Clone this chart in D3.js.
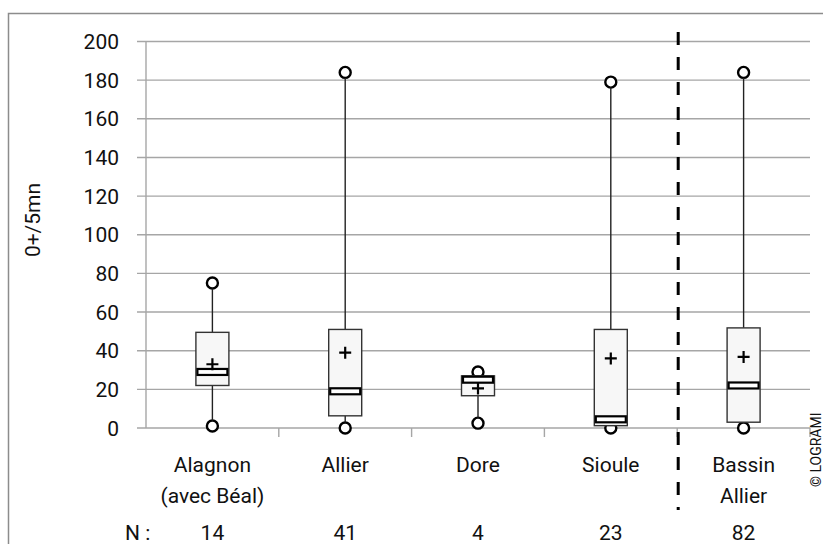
<!DOCTYPE html>
<html>
<head>
<meta charset="utf-8">
<script src="https://cdn.jsdelivr.net/npm/d3@7"></script>
<style>
  html, body { margin: 0; padding: 0; background: #fff; }
  svg { display: block; }
  text { font-family: Roboto, "DejaVu Sans", sans-serif; fill: #111; }
</style>
</head>
<body>
<svg id="chart" width="823" height="544"></svg>
<script>
// Box-plot statistics per river
const categories = ["Alagnon\n(avec Béal)", "Allier", "Dore", "Sioule", "Bassin\nAllier"];
const counts     = [14, 41, 4, 23, 82];
const q1         = [22, 6.3, 16.7, 1.2, 3];
const q3         = [49.5, 51, 27, 51, 51.8];
const medians    = [29, 19, 25, 4.5, 22];
const means      = [33, 39, 20.5, 36, 36.8];
const maxima     = [75, 184, 29, 179, 184];
const minima     = [1, 0, 2.5, 0, 0];
const yTicks     = [0, 20, 40, 60, 80, 100, 120, 140, 160, 180, 200];
const yTitle     = "0+/5mn";
const credit     = "© LOGRAMI";

const svg = d3.select("#chart");

// outer frame
svg.append("rect")
  .attr("x", 8.5).attr("y", 13.5)
  .attr("width", 830).attr("height", 560)
  .attr("fill", "none").attr("stroke", "#8c8c8c").attr("stroke-width", 1.5);

const plotLeft = 146, plotRight = 810, plotTop = 41.5, plotBottom = 428;

const x = d3.scaleBand().domain(d3.range(categories.length)).range([plotLeft, plotRight]);
const y = d3.scaleLinear().domain([0, 200]).range([plotBottom, plotTop]);

// horizontal gridlines with left ticks
svg.append("g").selectAll("line").data(yTicks).join("line")
  .attr("x1", plotLeft - 9).attr("x2", plotRight)
  .attr("y1", d => y(d)).attr("y2", d => y(d))
  .attr("stroke", "#a6a6a6").attr("stroke-width", 1.4);

// y axis line
svg.append("line")
  .attr("x1", plotLeft).attr("x2", plotLeft).attr("y1", y(200)).attr("y2", y(0))
  .attr("stroke", "#a6a6a6").attr("stroke-width", 1.4);

// y tick labels
svg.append("g").selectAll("text").data(yTicks).join("text")
  .attr("x", 119).attr("y", d => y(d))
  .attr("dy", "0.36em")
  .attr("text-anchor", "end")
  .attr("font-size", 21)
  .text(d => d);

// x tick marks at band boundaries
const bounds = d3.range(categories.length + 1).map(i => plotLeft + i * x.bandwidth());
svg.append("g").selectAll("line").data(bounds.slice(1)).join("line")
  .attr("x1", d => d).attr("x2", d => d)
  .attr("y1", plotBottom).attr("y2", plotBottom + 9)
  .attr("stroke", "#a6a6a6").attr("stroke-width", 1.4);

// y title
svg.append("text")
  .attr("transform", `translate(40,220) rotate(-90)`)
  .attr("text-anchor", "middle")
  .attr("font-size", 21)
  .text(yTitle);

const cx = i => x(i) + x.bandwidth() / 2;
const bw = 33;

const boxes = svg.append("g");
categories.forEach((c, i) => {
  const g = boxes.append("g");
  // outlier / extreme markers
  [maxima[i], minima[i]].forEach(v => {
    g.append("circle")
      .attr("cx", cx(i)).attr("cy", y(v)).attr("r", 5.5)
      .attr("fill", "#fff").attr("stroke", "#000").attr("stroke-width", 2.4);
  });
  // whiskers
  g.append("line")
    .attr("x1", cx(i)).attr("x2", cx(i))
    .attr("y1", y(q3[i])).attr("y2", y(maxima[i]) + 5.5)
    .attr("stroke", "#222").attr("stroke-width", 1.4);
  g.append("line")
    .attr("x1", cx(i)).attr("x2", cx(i))
    .attr("y1", y(q1[i])).attr("y2", y(minima[i]) - 5.5)
    .attr("stroke", "#222").attr("stroke-width", 1.4);
  // interquartile box
  g.append("rect")
    .attr("x", cx(i) - bw / 2).attr("y", y(q3[i]))
    .attr("width", bw).attr("height", y(q1[i]) - y(q3[i]))
    .attr("fill", "#f7f7f7").attr("stroke", "#333").attr("stroke-width", 1.4);
  // median bar
  g.append("rect")
    .attr("x", cx(i) - bw / 2 + 1.5).attr("y", y(medians[i]) - 3)
    .attr("width", bw - 3).attr("height", 6)
    .attr("fill", "#fff").attr("stroke", "#000").attr("stroke-width", 2.2);
  // mean cross
  const my = y(means[i]);
  g.append("path")
    .attr("d", `M${cx(i) - 6},${my}H${cx(i) + 6}M${cx(i)},${my - 6}V${my + 6}`)
    .attr("stroke", "#000").attr("stroke-width", 2.2).attr("fill", "none");
});

// dashed separator before the whole-basin column
svg.append("line")
  .attr("x1", bounds[4] + 1).attr("x2", bounds[4] + 1)
  .attr("y1", 32).attr("y2", 510)
  .attr("stroke", "#000").attr("stroke-width", 3)
  .attr("stroke-dasharray", "13,12");

// category labels
const lab = svg.append("g");
categories.forEach((c, i) => {
  c.split("\n").forEach((line, k) => {
    lab.append("text")
      .attr("x", cx(i)).attr("y", 472 + k * 31)
      .attr("text-anchor", "middle")
      .attr("font-size", 21)
      .text(line);
  });
  lab.append("text")
    .attr("x", cx(i)).attr("y", 540)
    .attr("text-anchor", "middle")
    .attr("font-size", 21)
    .text(counts[i]);
});
lab.append("text")
  .attr("x", 125).attr("y", 540)
  .attr("font-size", 21)
  .text("N :");

// credit
svg.append("text")
  .attr("transform", "translate(821,487) rotate(-90)")
  .attr("font-size", 14)
  .text(credit);
</script>
</body>
</html>
